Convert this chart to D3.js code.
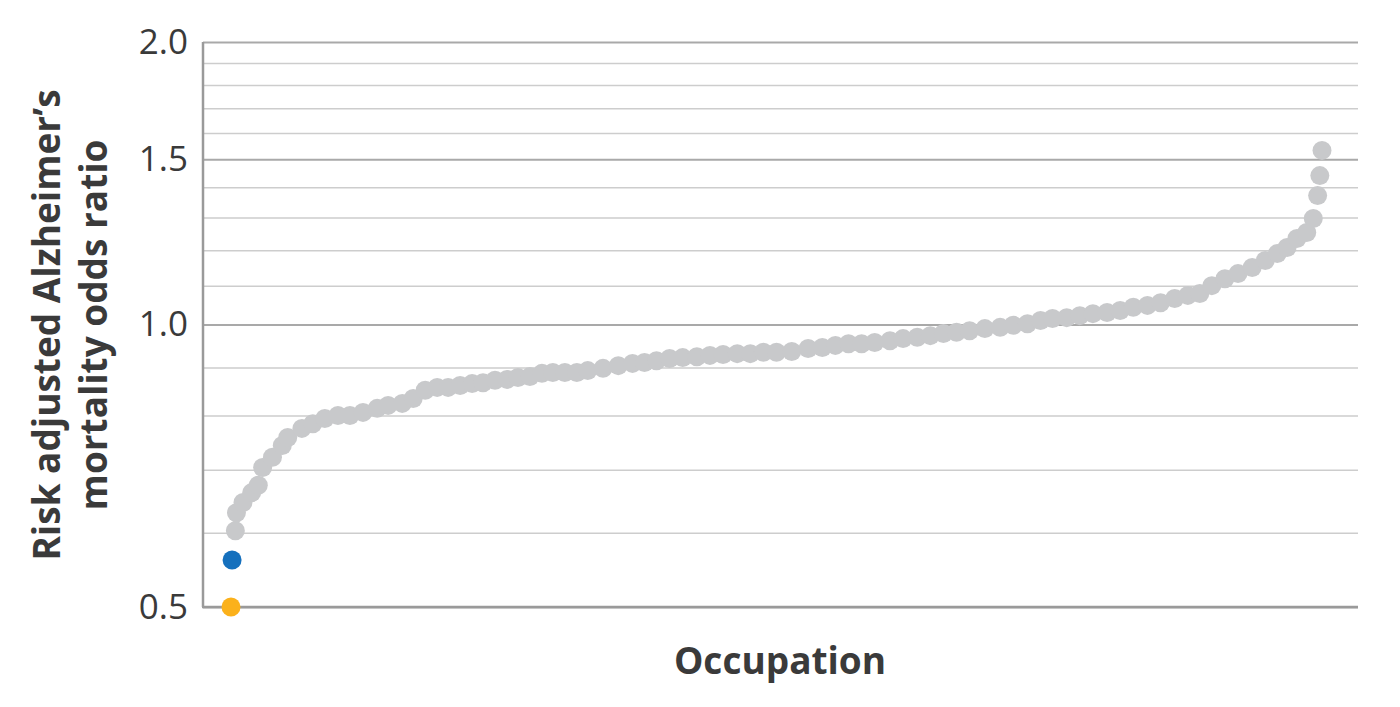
<!DOCTYPE html>
<html>
<head>
<meta charset="utf-8">
<script src="https://cdn.jsdelivr.net/npm/d3@7"></script>
<style>
  body { margin: 0; background: #fff; }
  svg { display: block; }
</style>
</head>
<body>
<div id="chart"></div>
<script>
// Occupation position along the x axis (0 = first, 100 = last) and odds ratio
const occupationPos = [
  0.4, 0.5, 1.1, 1.9, 2.5, 2.9, 3.8, 4.7, 5.2, 6.5,
  7.5, 8.6, 9.8, 10.9, 12.1, 13.4, 14.4, 15.7, 16.7, 17.8,
  18.9, 19.9, 21.0, 22.1, 23.1, 24.2, 25.3, 26.3, 27.4, 28.5,
  29.5, 30.6, 31.7, 32.7, 34.1, 35.5, 36.8, 37.9, 39.0, 40.2,
  41.4, 42.7, 43.9, 45.1, 46.4, 47.6, 48.8, 50.0, 51.4, 52.9,
  54.2, 55.4, 56.6, 57.8, 59.0, 60.4, 61.6, 62.9, 64.1, 65.3,
  66.5, 67.7, 69.1, 70.5, 71.7, 73.0, 74.2, 75.3, 76.6, 77.8,
  79.0, 80.3, 81.5, 82.7, 84.0, 85.2, 86.5, 87.7, 88.8, 89.9,
  91.1, 92.3, 93.6, 94.8, 95.9, 96.8, 97.7, 98.6, 99.2, 99.6,
  99.8, 100
];
const oddsRatio = [
  0.603, 0.630, 0.646, 0.662, 0.674, 0.704, 0.722, 0.743, 0.758, 0.775,
  0.784, 0.794, 0.800, 0.800, 0.806, 0.814, 0.820, 0.824, 0.834, 0.851,
  0.857, 0.857, 0.861, 0.865, 0.867, 0.872, 0.874, 0.878, 0.880, 0.887,
  0.889, 0.889, 0.889, 0.893, 0.898, 0.904, 0.909, 0.911, 0.915, 0.920,
  0.922, 0.924, 0.927, 0.929, 0.931, 0.931, 0.934, 0.934, 0.936, 0.943,
  0.945, 0.950, 0.954, 0.954, 0.957, 0.961, 0.966, 0.969, 0.973, 0.978,
  0.981, 0.985, 0.990, 0.993, 0.998, 1.002, 1.010, 1.015, 1.017, 1.022,
  1.027, 1.030, 1.035, 1.043, 1.048, 1.055, 1.066, 1.074, 1.079, 1.100,
  1.119, 1.133, 1.150, 1.170, 1.190, 1.208, 1.235, 1.253, 1.297, 1.372,
  1.441, 1.533
];

// Two highlighted occupations
const highlightPos = [0, 0.1];
const highlightRatio = [0.500, 0.561];
const highlightColor = ['#fbb11b', '#1570bd'];

// Axis ticks
const labelTicks = [0.5, 1.0, 1.5, 2.0];
const gridTicks = [0.5, 0.6, 0.7, 0.8, 0.9, 1.0, 1.1, 1.2, 1.3, 1.4, 1.5, 1.6, 1.7, 1.8, 1.9, 2.0];

const width = 1400;
const height = 707;
const plot = { left: 203, right: 1358, top: 42, bottom: 607 };

const svg = d3.select('#chart')
  .append('svg')
  .attr('width', width)
  .attr('height', height);

const xScale = d3.scaleLinear()
  .domain([0, 100])
  .range([231, 1322]);

const yScale = d3.scaleLog()
  .domain([0.5, 2.0])
  .range([plot.bottom, plot.top]);

const isMajor = (d) => labelTicks.some((t) => Math.abs(t - d) < 1e-9);

// gridlines
const grid = svg.append('g')
  .attr('transform', `translate(${plot.left},0)`)
  .call(d3.axisLeft(yScale).tickValues(gridTicks).tickFormat('').tickSize(-(plot.right - plot.left)));
grid.select('.domain').remove();
grid.selectAll('.tick line')
  .attr('stroke', (d) => isMajor(d) ? '#a9a9a9' : '#cdcdcd')
  .attr('stroke-width', (d) => isMajor(d) ? 2 : 1.5);

// y tick labels
const yAxis = svg.append('g')
  .attr('transform', `translate(${plot.left},0)`)
  .call(d3.axisLeft(yScale).tickValues(labelTicks).tickFormat(d3.format('.1f')).tickSize(0).tickPadding(15));
yAxis.select('.domain').remove();
yAxis.selectAll('text')
  .attr('font-family', "'Open Sans', sans-serif")
  .attr('font-size', 35)
  .attr('fill', '#3a3a3a');

// axis lines
svg.append('line')
  .attr('x1', plot.left).attr('x2', plot.left)
  .attr('y1', plot.top).attr('y2', plot.bottom)
  .attr('stroke', '#9a9a9a').attr('stroke-width', 2.5);
svg.append('line')
  .attr('x1', plot.left - 1).attr('x2', plot.right)
  .attr('y1', plot.bottom).attr('y2', plot.bottom)
  .attr('stroke', '#9a9a9a').attr('stroke-width', 2.5);

// grey dots
const points = occupationPos.map((p, i) => ({ pos: p, ratio: oddsRatio[i] }));
svg.append('g')
  .selectAll('circle')
  .data(points)
  .join('circle')
  .attr('cx', (d) => xScale(d.pos))
  .attr('cy', (d) => yScale(d.ratio))
  .attr('r', 9.5)
  .attr('fill', '#c8c9cb');

// highlighted dots
const highlights = highlightPos.map((p, i) => ({ pos: p, ratio: highlightRatio[i], color: highlightColor[i] }));
svg.append('g')
  .selectAll('circle')
  .data(highlights)
  .join('circle')
  .attr('cx', (d) => xScale(d.pos))
  .attr('cy', (d) => yScale(d.ratio))
  .attr('r', 9.5)
  .attr('fill', (d) => d.color);

// axis titles
const yTitle = svg.append('text')
  .attr('transform', 'translate(60,325) rotate(-90)')
  .attr('text-anchor', 'middle')
  .attr('font-family', "'Open Sans', sans-serif")
  .attr('font-weight', 700)
  .attr('font-size', 37)
  .attr('fill', '#3a3a3a');
yTitle.append('tspan').attr('x', 0).attr('dy', 0).text('Risk adjusted Alzheimer’s');
yTitle.append('tspan').attr('x', 0).attr('dy', 47).text('mortality odds ratio');

svg.append('text')
  .attr('x', 780)
  .attr('y', 674)
  .attr('text-anchor', 'middle')
  .attr('font-family', "'Open Sans', sans-serif")
  .attr('font-weight', 700)
  .attr('font-size', 37)
  .attr('fill', '#3a3a3a')
  .text('Occupation');
</script>
</body>
</html>
